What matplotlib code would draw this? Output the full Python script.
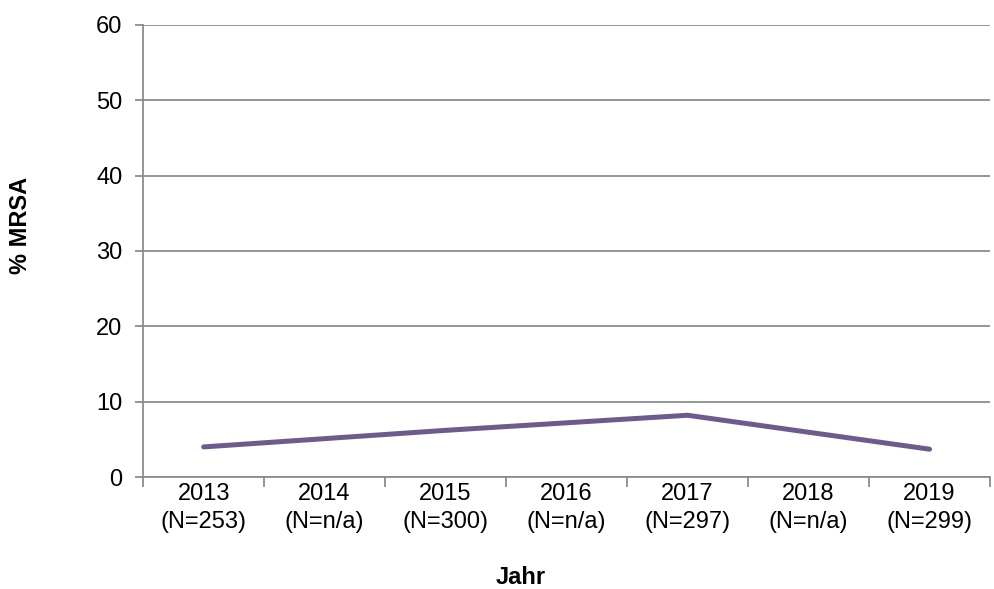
import numpy as np
import matplotlib.pyplot as plt

plt.rcParams['font.family'] = ['Liberation Sans', 'DejaVu Sans']

# MRSA share per year (no data for the even years after 2013)
years = ['2013', '2014', '2015', '2016', '2017', '2018', '2019']
counts = ['253', 'n/a', '300', 'n/a', '297', 'n/a', '299']
mrsa_pct = [4.0, np.nan, 6.2, np.nan, 8.2, np.nan, 3.7]

labels = [f'{y}\n(N={n})' for y, n in zip(years, counts)]
x = np.arange(len(years))
vals = np.array(mrsa_pct)
ok = ~np.isnan(vals)

fig = plt.figure(figsize=(9.94, 5.89), dpi=100)
ax = fig.add_axes([0.144, 0.19, 0.852, 0.768])

grid_c = '#8c8c8c'
fs = 17
ax.set_ylim(0, 60)
ax.set_yticks(np.arange(0, 61, 10))
ax.yaxis.grid(True, color=grid_c, linewidth=1.3)
ax.set_axisbelow(True)

ax.plot(x[ok], vals[ok], color='#6f5a8e', linewidth=3.6, solid_capstyle='round', zorder=3)

ax.set_xlim(-0.5, len(years) - 0.5)
ax.set_xticks(x)
ax.set_xticklabels(labels, fontsize=fs, linespacing=1.35)
ax.set_xticks(np.arange(-0.5, len(years)), minor=True)
ax.tick_params(axis='x', which='major', length=0, pad=4)
ax.tick_params(axis='x', which='minor', length=7, width=1.3, color=grid_c)
ax.tick_params(axis='y', length=6, width=1.3, color=grid_c, labelsize=fs, pad=9)

for side in ['top', 'right']:
    ax.spines[side].set_visible(False)
for side in ['left', 'bottom']:
    ax.spines[side].set_color(grid_c)
    ax.spines[side].set_linewidth(1.3)

# axis titles placed in figure coordinates
fig.text(0.524, 0.019, 'Jahr', fontsize=fs, fontweight='bold', ha='center', va='center')
fig.text(0.021, 0.618, '% MRSA', fontsize=fs, fontweight='bold', ha='center', va='center',
         rotation=90)

fig.savefig('out.png', dpi=100)
